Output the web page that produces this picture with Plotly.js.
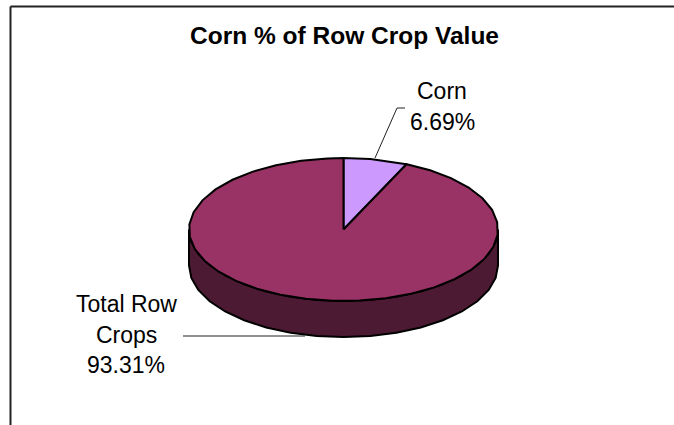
<!DOCTYPE html>
<html>
<head>
<meta charset="utf-8">
<script src="https://cdn.plot.ly/plotly-3.0.1.min.js"></script>
<style>html,body{margin:0;padding:0;background:#fff}#chart{width:674px;height:425px}</style>
</head>
<body>
<div id="chart"></div>
<script>
const titleText = "Corn % of Row Crop Value";
const categories = ["Corn", "Total Row Crops"];
const labelLines = [["Corn"], ["Total Row", "Crops"]];
const shares = [6.69, 93.31];
const sliceColors = ["#CC99FF", "#993366"];
const wallColor = "#4D1A33";

const cx = 343.5, cy = 229.5, rx = 154.5, ry = 71.5, depth = 36, stepDeg = 10;
const W = 674, H = 425;

function pt(deg, dy) {
  const a = deg * Math.PI / 180;
  return [cx + rx * Math.sin(a), cy - ry * Math.cos(a) + (dy || 0)];
}
function arc(from, to, dy) {
  const out = [];
  const dir = to >= from ? 1 : -1;
  for (let d = from; dir * (to - d) > 0.001; d += dir * stepDeg) out.push(pt(d, dy));
  out.push(pt(to, dy));
  return out;
}
function polyTrace(points, color) {
  return {
    type: "scatter", mode: "lines", fill: "toself", fillcolor: color,
    x: points.map(p => p[0]), y: points.map(p => p[1]),
    line: {color: "#000", width: 2}, hoverinfo: "skip", showlegend: false
  };
}
function leader(xs, ys) {
  return {type: "scatter", mode: "lines", x: xs, y: ys,
    line: {color: "#222", width: 1}, hoverinfo: "skip", showlegend: false};
}

const traces = [];
// side wall (front half of the rim)
const wall = arc(90, 270, 0).concat(arc(270, 90, depth));
wall.push(wall[0]);
traces.push(polyTrace(wall, wallColor));
// top slices, computed from the shares
const total = shares.reduce((a, b) => a + b, 0);
let start = 0;
shares.forEach((v, i) => {
  const sweep = v / total * 360;
  const poly = [[cx, cy]].concat(arc(start, start + sweep, 0));
  poly.push([cx, cy]);
  traces.push(polyTrace(poly, sliceColors[i]));
  start += sweep;
});
traces.push(leader([375, 397, 405], [158, 108, 108]));
traces.push(leader([183, 305], [336, 336]));

const anchors = [[442, 91], [126, 304]];
const lineGap = 30.5;
const annotations = [];
labelLines.forEach((lines, i) => {
  lines.concat([shares[i].toFixed(2) + "%"]).forEach((t, j) => {
    annotations.push({
      x: anchors[i][0], y: anchors[i][1] + j * lineGap, xref: "x", yref: "y",
      text: t, showarrow: false, xanchor: "center", yanchor: "middle",
      font: {family: "Liberation Sans, Arial, sans-serif", size: 23, color: "#000"}
    });
  });
});

const layout = {
  width: W, height: H,
  margin: {l: 0, r: 0, t: 0, b: 0},
  paper_bgcolor: "#fff", plot_bgcolor: "#fff",
  showlegend: false,
  title: {
    text: "<b>" + titleText + "</b>",
    x: 344.5 / W, xref: "paper", xanchor: "center",
    y: 1 - 35 / H, yref: "container", yanchor: "middle",
    font: {family: "Liberation Sans, Arial, sans-serif", size: 24.5, color: "#000"}
  },
  xaxis: {visible: false, range: [0, W], fixedrange: true},
  yaxis: {visible: false, range: [H, 0], fixedrange: true},
  annotations: annotations,
  shapes: [
    {type: "line", xref: "x", yref: "y", x0: 10.5, x1: W, y0: 6.5, y1: 6.5, line: {color: "#222", width: 2}},
    {type: "line", xref: "x", yref: "y", x0: 10.5, x1: 10.5, y0: 6.5, y1: H, line: {color: "#222", width: 2}}
  ]
};
Plotly.newPlot("chart", traces, layout, {displayModeBar: false, staticPlot: true});
</script>
</body>
</html>
